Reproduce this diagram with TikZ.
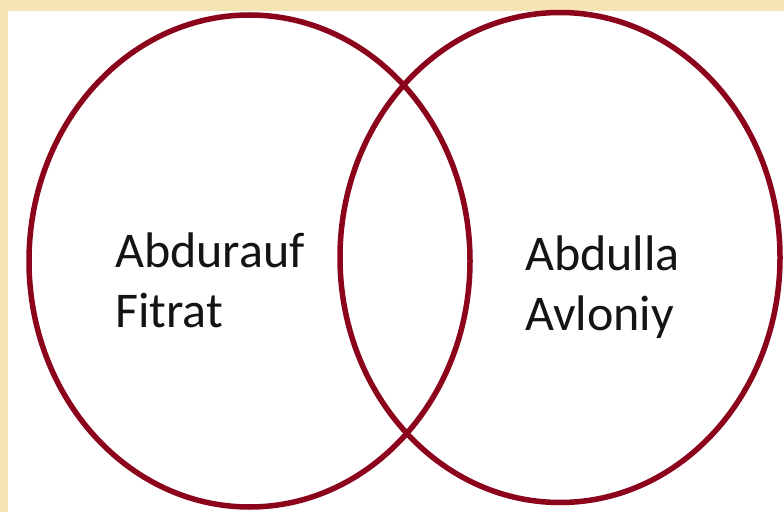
\documentclass[tikz,border=0pt]{standalone}
\usepackage{fontspec}
\setmainfont{Carlito}
\usetikzlibrary{shapes.geometric}
\definecolor{vennred}{RGB}{139,4,28}
\definecolor{beigebg}{RGB}{246,229,180}
\definecolor{txt}{RGB}{20,20,20}
\begin{document}
\begin{tikzpicture}[x=1pt,y=1pt,
  vennset/.style={draw=vennred,line width=5.5pt,ellipse,inner sep=0pt},
  label/.style={anchor=base west,align=left,inner sep=0pt,text=txt,
    font=\fontsize{50}{60}\selectfont}]
\useasboundingbox (0,0) rectangle (784,512);
\fill[beigebg] (0,0) rectangle (784,512);
\fill[white] (8,0) rectangle (784,501);
\node[vennset,minimum width=441pt,minimum height=492pt] (left) at (249.5,251) {};
\node[vennset,minimum width=440pt,minimum height=490pt] (right) at (560,254.5) {};
\node[label] (fitrat) at (115,185) {Abdurauf\\Fitrat};
\node[label] (avloniy) at (525,182) {Abdulla\\Avloniy};
\end{tikzpicture}
\end{document}
